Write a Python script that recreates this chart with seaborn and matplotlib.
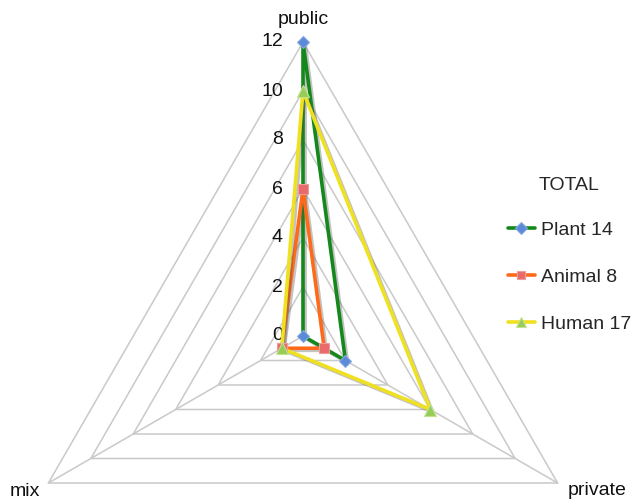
import numpy as np
import pandas as pd
import matplotlib
matplotlib.use("Agg")
import matplotlib.pyplot as plt
import matplotlib.patheffects as pe
from matplotlib.lines import Line2D
import seaborn as sns

# Spoke categories (clockwise from top) and counts per group
categories = ["public", "private", "mix"]
plant = [12, 2, 0]
animal = [6, 1, 1]
human = [10, 6, 1]
series_names = ["Plant 14", "Animal 8", "Human 17"]
ring_values = [0, 2, 4, 6, 8, 10, 12]

sns.set_style("white")
plt.rcParams["font.family"] = ["Liberation Sans", "DejaVu Sans"]

W, H = 638, 503
FS = 14
fig = plt.figure(figsize=(W / 100, H / 100), dpi=100)

# polar axes whose centre and outer radius sit where the triangle belongs
cx, cy, R = 303, 336, 294
ax = fig.add_axes([(cx - R) / W, (H - cy - R) / H, 2 * R / W, 2 * R / H],
                  projection="polar")
ax.set_theta_zero_location("N")
ax.set_theta_direction(-1)
ax.set_ylim(0, 12)
ax.grid(False)
ax.set_xticks([])
ax.set_yticks([])
ax.spines["polar"].set_visible(False)
ax.patch.set_alpha(0)

n = len(categories)
theta = np.linspace(0, 2 * np.pi, n + 1)

# triangular rings and spokes
grid_kw = dict(color="#c9c9c9", lw=1.1, zorder=1, clip_on=False)
for v in ring_values[1:]:
    ax.plot(theta, [v] * (n + 1), **grid_kw)
for t in theta[:-1]:
    ax.plot([t, t], [0, 12], **grid_kw)

# ring value labels next to the public spoke
for v in ring_values:
    ax.annotate(str(v), xy=(0, v), xytext=(-20, 0), textcoords="offset pixels",
                ha="right", va="center", fontsize=FS, color="#111111")

# category labels at the outer vertices
ax.annotate("public", xy=(0, 12), xytext=(0, 23), textcoords="offset pixels",
            ha="center", va="center", fontsize=FS, color="#111111")
ax.annotate("private", xy=(theta[1], 12), xytext=(10, -8),
            textcoords="offset pixels", ha="left", va="center",
            fontsize=FS, color="#111111")
ax.annotate("mix", xy=(theta[2], 12), xytext=(-8, -8),
            textcoords="offset pixels", ha="right", va="center",
            fontsize=FS, color="#111111")

styles = [
    dict(values=plant, color="#14881a", marker="D", mfc="#5b8ad8", mec="#86a8e2", ms=6.5),
    dict(values=animal, color="#ff6a1a", marker="s", mfc="#e86a6a", mec="#f09a9a", ms=7),
    dict(values=human, color="#efe020", marker="^", mfc="#98cc58", mec="#c4e28e", ms=8.5),
]

shadow = [pe.SimpleLineShadow(offset=(1.5, -1.5), shadow_color="#555555", alpha=0.35),
          pe.Normal()]

handles = []
for name, st in zip(series_names, styles):
    vals = list(st["values"]) + [st["values"][0]]
    df = pd.DataFrame({"theta": theta, "value": vals})
    sns.lineplot(data=df, x="theta", y="value", sort=False, ax=ax,
                 color=st["color"], lw=2.6, zorder=3,
                 path_effects=shadow, clip_on=False)
    ax.plot(theta[:-1], st["values"], ls="none", marker=st["marker"],
            ms=st["ms"], mfc=st["mfc"], mec=st["mec"], mew=0.8, zorder=4,
            clip_on=False)
    handles.append(Line2D([], [], color=st["color"], lw=2.6, marker=st["marker"],
                          ms=st["ms"] * 0.9, mfc=st["mfc"], mec=st["mec"], mew=0.8))

ax.set_xlabel("")
ax.set_ylabel("")

leg = fig.legend(handles, series_names, title="TOTAL", loc="upper left",
                 bbox_to_anchor=(498 / W, 1 - 167 / H), frameon=False,
                 fontsize=FS, title_fontsize=FS, labelspacing=1.5,
                 handlelength=1.4, handletextpad=0.3, borderpad=0)
leg._legend_box.sep = 20

fig.savefig("out.png", dpi=100)
